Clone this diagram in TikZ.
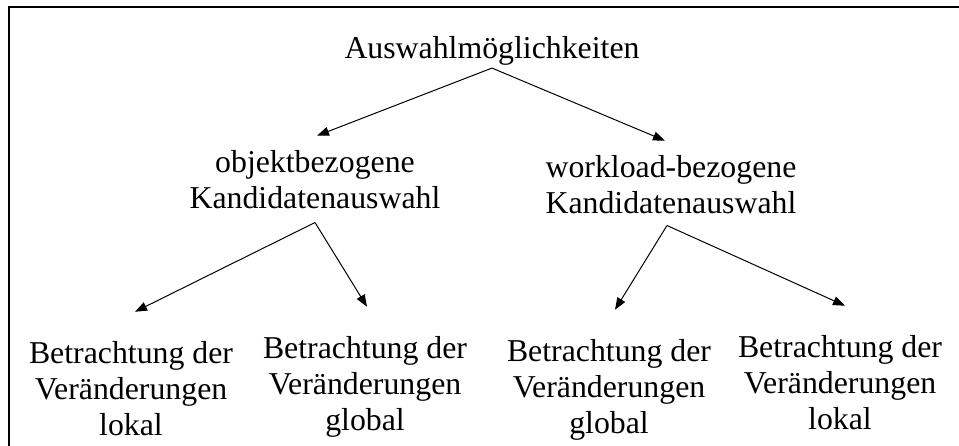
\documentclass[tikz,border=0pt]{standalone}
\usepackage{fontspec}
\setmainfont{Liberation Serif}
\usetikzlibrary{arrows.meta}
\begin{document}
\begin{tikzpicture}[x=1pt,y=-1pt,
  lbl/.style={font=\fontsize{31.8}{36}\selectfont, align=center, inner sep=0pt, anchor=base},
  arr/.style={-{Triangle[length=12pt,width=9pt]}, line width=1pt},
  frame/.style={line width=2pt}]
\useasboundingbox (0,0) rectangle (959,445);
\draw[frame] (9,450) -- (9,7) -- (965,7);
\node[lbl] (top) at (492,58) {Auswahlmöglichkeiten};
\node[lbl] (obj) at (315,208) {objektbezogene\\Kandidatenauswahl};
\node[lbl] (wl) at (671,213) {workload-bezogene\\Kandidatenauswahl};
\node[lbl] (b1) at (131,435) {Betrachtung der\\Veränderungen\\lokal};
\node[lbl] (b2) at (365,430) {Betrachtung der\\Veränderungen\\global};
\node[lbl] (b3) at (609,433) {Betrachtung der\\Veränderungen\\global};
\node[lbl] (b4) at (840,429) {Betrachtung der\\Veränderungen\\lokal};
\draw[arr] ([yshift=-3pt]top.south) -- ([xshift=2pt,yshift=14pt]obj.north);
\draw[arr] ([yshift=-3pt]top.south) -- ([xshift=-6pt,yshift=14pt]wl.north);
\draw[arr] ([yshift=-14pt]obj.south) -- ([xshift=4pt,yshift=29pt]b1.north);
\draw[arr] ([yshift=-14pt]obj.south) -- ([xshift=2pt,yshift=29pt]b2.north);
\draw[arr] ([xshift=-4pt,yshift=-12pt]wl.south) -- ([xshift=6pt,yshift=29pt]b3.north);
\draw[arr] ([xshift=-4pt,yshift=-12pt]wl.south) -- ([xshift=5pt,yshift=29pt]b4.north);
\end{tikzpicture}
\end{document}
